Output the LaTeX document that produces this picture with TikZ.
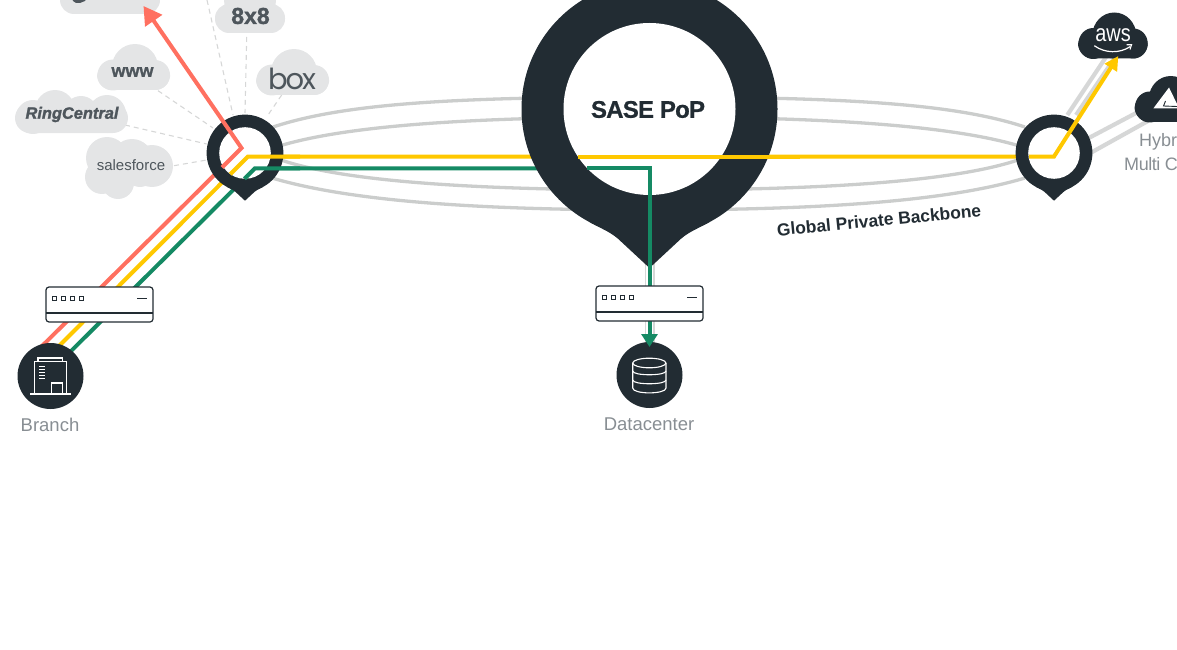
\documentclass[tikz,border=0pt]{standalone}
\usepackage{fontspec}
\setmainfont{Liberation Sans}
\newfontfamily\boxfont[LetterSpace=-7]{Poppins}
\usetikzlibrary{arrows.meta}
\definecolor{ink}{HTML}{222C33}
\definecolor{coral}{HTML}{FF7060}
\definecolor{amber}{HTML}{FFC800}
\definecolor{jade}{HTML}{158A64}
\definecolor{rail}{HTML}{CBCDCC}
\definecolor{rail2}{HTML}{D6D7D7}
\definecolor{cloudg}{HTML}{E4E5E6}
\definecolor{labelg}{HTML}{888E93}
\definecolor{logog}{HTML}{4E565C}
\newcommand{\pinmark}[3]{%
  \begin{scope}[shift={(#1,#2)},scale=#3]
    \fill[ink] (0,0) circle (128);
    \fill[ink] (-60,113) .. controls (-46,121) and (-38,123) .. (-28,133) -- (0,159) -- (28,133) .. controls (38,123) and (46,121) .. (60,113) -- cycle;
    \fill[white] (0,0) circle (86);
  \end{scope}}
\newcommand{\stdcloud}[4]{%
  \begin{scope}[shift={(#1,#2)},xscale=#4]
    \fill[#3,rounded corners=15pt] (0,18) rectangle (73,46);
    \fill[#3] (38,23) circle (23);
    \fill[#3] (16,31) circle (15.5);
    \fill[#3] (58,31) circle (15);
  \end{scope}}
\newcommand{\boxdevice}[3]{%
  \begin{scope}[shift={(#1,#2)}]
    \node[devicebody] (#3) at (53.5,17.5) {};
    \draw[devline] (0,26) -- (107,26);
    \foreach \k in {0,1,2,3} {\draw[devline,line width=1pt] (6+\k*9.2,9) rectangle ++(4,4);}
    \draw[devline,line width=1pt] (91,11) -- (101,11);
  \end{scope}}
\tikzset{
  railline/.style={draw=rail,line width=3.3pt},
  railsoft/.style={draw=rail2,line width=4.2pt},
  routeline/.style={line width=4pt},
  hint/.style={draw=rail2,line width=1.1pt,dash pattern=on 5pt off 4pt},
  devicebody/.style={draw=ink,line width=1.2pt,fill=white,rounded corners=3pt,minimum width=107pt,minimum height=35pt,inner sep=0pt},
  devline/.style={draw=ink,line width=1.2pt},
  iconline/.style={draw=white,line width=1.1pt},
  caption/.style={text=labelg,font=\fontsize{18.5}{20}\selectfont,inner sep=0pt},
  logo/.style={text=logog,inner sep=0pt},
  site/.style={circle,fill=ink,minimum size=66pt,inner sep=0pt},
}
\begin{document}
\begin{tikzpicture}[x=1pt,y=-1pt]
\useasboundingbox (0,0) rectangle (1177,650);
\clip (0,0) rectangle (1177,650);
% dashed hints
\coordinate (hA) at (207,0);   \coordinate (hAe) at (233,115);
\coordinate (hB) at (246.7,37);\coordinate (hBe) at (245,113);
\coordinate (hC) at (281.7,95);\coordinate (hCe) at (268,115);
\coordinate (hD) at (158,90.7);\coordinate (hDe) at (213,128);
\coordinate (hE) at (125,125); \coordinate (hEe) at (206.7,144);
\coordinate (hF) at (174,165.7);\coordinate (hFe) at (206.7,160);
\foreach \a/\b in {hA/hAe,hB/hBe,hC/hCe,hD/hDe,hE/hEe,hF/hFe} \draw[hint] (\a) -- (\b);
% backbone arcs
\draw[railline] (273,127) .. controls (340,105) and (440,97) .. (649,97) .. controls (858,97) and (958,105) .. (1025,127);
\draw[railline] (281,145.5) .. controls (340,128) and (450,117) .. (649,117) .. controls (848,117) and (958,128) .. (1018,145.5);
\draw[railline] (281,160) .. controls (340,180) and (460,190) .. (649,190) .. controls (838,190) and (958,180) .. (1018,160);
\draw[railline] (272,178) .. controls (340,198) and (450,210) .. (649,210) .. controls (848,210) and (958,198) .. (1025,178);
% soft links
\draw[railsoft] (1067.3,115) -- (1106.7,56);
\draw[railsoft] (1076,115) -- (1116,56);
\draw[railsoft] (1085,140) -- (1138,112);
\draw[railsoft] (1085,156) -- (1148,121);
\draw[rail2,line width=1.4pt] (645.5,262) -- (645.5,345);
\draw[rail2,line width=1.4pt] (654,262) -- (654,345);
% clouds
\fill[cloudg,rounded corners=14pt] (60,-30) rectangle (160,14);
\fill[logog] (72,-2) -- (87,-2) -- (85,1) -- (80,3) -- (76,3) -- (73,1) -- cycle;
\fill[cloudg,rounded corners=14pt] (215,4) rectangle (285,33);
\fill[cloudg] (250,0) circle (26);
\stdcloud{97}{44}{cloudg}{1}
\stdcloud{256}{49}{cloudg}{1}
\fill[cloudg,rounded corners=15pt] (15,103) rectangle (128,133);
\fill[cloudg] (33,117) circle (17);
\fill[cloudg] (55,110) circle (20);
\fill[cloudg] (81,113) circle (17);
\fill[cloudg] (107,114) circle (19);
\foreach \cx/\cy/\cr in {107/158/21,132/160/21,152/166/21,102/177/17,118/183/16,140/172/15} \fill[cloudg] (\cx,\cy) circle (\cr);
\node[logo,font=\fontsize{23}{24}\selectfont\bfseries\addfontfeature{FakeBold=1.5}] (tEight) at (250.5,16) {8x8};
\node[logo,font=\fontsize{18}{18}\selectfont\bfseries\addfontfeature{FakeBold=1}] (tWww) at (132.5,72) {www};
\node[logo,font=\fontsize{16.4}{16}\selectfont\bfseries\itshape\addfontfeature{FakeBold=1.5}] (tRing) at (72,114.5) {RingCentral};
\node[logo,font=\fontsize{15}{18}\selectfont] (tSales) at (131,165.5) {salesforce};
\node[logo,font=\fontsize{29}{30}\selectfont\boxfont] (tBox) at (292,79) {box};
\stdcloud{1078}{12.5}{ink}{0.955}
\stdcloud{1134.5}{76}{ink}{0.955}
\node[text=white,inner sep=0pt,xscale=0.83,font=\fontsize{24}{24}\selectfont] (tAws) at (1113,35) {aws};
\draw[white,line width=1.2pt] (1094.3,45.7) .. controls (1105,53.5) and (1120,53.5) .. (1130,46.7);
\draw[white,line width=1.1pt] (1126.5,44.8) -- (1131.5,44.8) -- (1130,49.5);
\fill[white] (1153.3,108.5) -- (1169,87.5) -- (1177,104) -- (1177,108.5) -- cycle;
\draw[ink,line width=.9pt] (1165.5,101) -- (1163.5,106) -- (1177,106.5);
% base routes, running under the rings
\coordinate (rtR0) at (35,353);
\coordinate (rtY0) at (50,355);
\coordinate (rtG0) at (60,362);
\coordinate (rtA) at (241.5,148);
\coordinate (rtATip) at (143.5,6);
\coordinate (rtB) at (248,156.5);
\coordinate (rtC) at (1054,156.5);
\coordinate (rtCTip) at (1118.3,56);
\coordinate (rtG) at (255,168.3);
\coordinate (rtH) at (649.5,168.3);
\coordinate (dcTip) at (649.5,347);
\draw[coral,routeline] (rtR0) -- (rtA);
\draw[amber,routeline] (rtY0) -- (rtB) -- (rtC);
\draw[jade,routeline] (rtG0) -- (rtG) -- (rtH);
% pins
\pinmark{245}{153}{0.3}
\pinmark{1054}{153}{0.3}
\pinmark{649.5}{109}{1}
\node[text=ink,inner sep=0pt,font=\fontsize{24}{26}\selectfont\bfseries\addfontfeature{LetterSpace=-3.2,FakeBold=0.8}] (tPop) at (648,109.5) {SASE PoP};
\node[site] (dc) at (649.5,375) {};
\node[site] (branch) at (50.5,376) {};
% routes leaving each ring pass over it
\coordinate (r1) at (222,167.5);
\coordinate (y1) at (230.3,174.2);
\coordinate (j1) at (244.5,178.8);
\coordinate (a1) at (300,156.5);
\coordinate (a2) at (578,156.5);
\coordinate (a3) at (800,156.5);
\coordinate (a4) at (1029,156.5);
\coordinate (g1) at (300,168.3);
\coordinate (g2) at (587,168.3);
\draw[coral,routeline,line join=miter,-{Triangle[length=18pt,width=20pt]}] (r1) -- (rtA) -- (rtATip);
\draw[amber,routeline,line join=miter] (y1) -- (rtB) -- (a1);
\draw[amber,routeline] (a2) -- (a3);
\draw[amber,routeline,line join=miter,-{Triangle[length=14pt,width=14pt]}] (a4) -- (rtC) -- (rtCTip);
\draw[jade,routeline,line join=miter] (j1) -- (rtG) -- (g1);
\draw[jade,routeline,line join=miter,-{Triangle[length=13pt,width=16pt]}] (g2) -- (rtH) -- (dcTip);
% devices
\boxdevice{46}{287}{devBranch}
\boxdevice{596}{286}{devDc}
% building icon
\draw[iconline] (34.3,394) -- (34.3,361.7) -- (66.7,361.7) -- (66.7,394);
\draw[iconline] (38,361.7) -- (38,358) -- (62.7,358) -- (62.7,361.7);
\draw[iconline] (30,394) -- (70.7,394);
\draw[iconline] (51.7,394) -- (51.7,383) -- (62.7,383) -- (62.7,394);
\foreach \yy in {366.7,369.6,372.5,375.4,378.3} \draw[iconline,line width=.9pt] (39.3,\yy) -- (45,\yy);
% database icon
\draw[iconline] (649.3,363) ellipse [x radius=16.6,y radius=4.8];
\draw[iconline] (632.7,363) -- (632.7,388) .. controls (632.7,394.5) and (666,394.5) .. (666,388) -- (666,363);
\draw[iconline] (632.7,371) .. controls (632.7,376) and (666,376) .. (666,371);
\draw[iconline] (632.7,380) .. controls (632.7,385) and (666,385) .. (666,380);
% captions
\node[caption] (tBranch) at (50,424.5) {Branch};
\node[caption] (tDc) at (649,424.5) {Datacenter};
\node[caption,anchor=west,font=\fontsize{18}{20}\selectfont] (tHy) at (1139,142) {Hybr};
\node[caption,anchor=west,font=\fontsize{18}{20}\selectfont\addfontfeature{LetterSpace=-2.5}] (tMc) at (1124,164.5) {Multi C};
\node[text=ink,inner sep=0pt,rotate=5.6,font=\fontsize{17.4}{18}\selectfont\bfseries] (tGpb) at (879,220) {Global Private Backbone};
\end{tikzpicture}
\end{document}
